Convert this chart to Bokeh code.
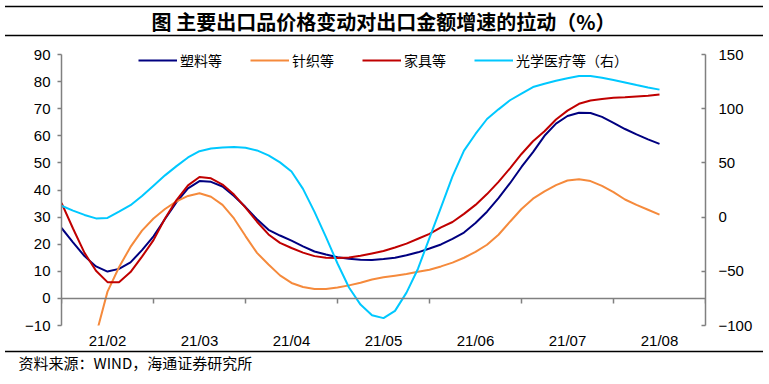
from bokeh.plotting import figure
from bokeh.models import (Range1d, LinearAxis, FixedTicker, Legend, LegendItem, Title, Span)
from bokeh.embed import file_html
from bokeh.resources import INLINE

title_text = "图 主要出口品价格变动对出口金额增速的拉动（%）"
source_text = "资料来源：WIND，海通证券研究所"
months = ["21/02", "21/03", "21/04", "21/05", "21/06", "21/07", "21/08"]
series_names = ["塑料等", "针织等", "家具等", "光学医疗等（右）"]
left_ticks = [-10, 0, 10, 20, 30, 40, 50, 60, 70, 80, 90]
right_ticks = [-100, -50, 0, 50, 100, 150]

# sample positions in month units (21/02 = 1), read every eighth of a month
x_pos = [i / 8 for i in range(4, 57)]

plastics = [26.0, 20.7, 15.6, 11.8, 9.9, 10.9, 13.3, 17.8, 22.9, 29.3,
            35.5, 40.6, 43.3, 43.0, 41.3, 37.8, 33.7, 29.2, 25.3, 23.2,
            21.3, 19.2, 17.3, 16.2, 15.2, 14.6, 14.3, 14.2, 14.5, 15.0,
            15.9, 17.0, 18.4, 19.9, 22.0, 24.3, 27.8, 32.0, 37.0, 42.5,
            48.5, 54.0, 60.0, 64.5, 67.3, 68.5, 68.4, 67.0, 64.8, 62.5,
            60.5, 58.7, 57.0]
knit = [-50.0, -38.0, -25.0, -13.5, 2.5, 11.5, 19.0, 25.0, 29.5, 33.0,
        35.8, 37.8, 38.8, 37.5, 34.5, 29.5, 23.0, 16.8, 12.5, 8.5,
        5.7, 4.2, 3.5, 3.5, 4.0, 4.8, 5.8, 7.0, 7.8, 8.4,
        9.0, 9.8, 10.6, 11.8, 13.2, 15.0, 17.2, 19.8, 23.5, 28.3,
        33.0, 36.8, 39.5, 41.8, 43.5, 44.0, 43.3, 41.5, 39.2, 36.5,
        34.5, 32.7, 30.9]
furniture = [35.2, 25.8, 16.8, 10.2, 6.0, 6.0, 9.7, 15.4, 21.5, 29.5,
             36.3, 41.7, 44.8, 44.3, 42.0, 38.3, 33.5, 28.3, 23.6, 20.5,
             18.6, 16.9, 15.6, 15.0, 14.9, 15.1, 15.7, 16.6, 17.5, 18.8,
             20.2, 22.0, 23.8, 26.2, 28.2, 31.2, 34.5, 38.5, 43.0, 48.0,
             53.3, 58.0, 61.7, 66.0, 69.3, 71.8, 73.0, 73.6, 74.0, 74.2,
             74.5, 74.8, 75.2]
optical = [10.5, 6.0, 2.0, -1.2, -0.8, 5.0, 11.0, 19.5, 29.0, 38.5,
           47.0, 55.0, 60.8, 63.2, 64.2, 64.6, 64.0, 61.5, 57.0, 50.5,
           42.0, 26.0, 4.8, -18.4, -42.8, -64.9, -80.7, -90.5, -93.2, -86.5,
           -69.7, -47.6, -19.1, 9.0, 37.5, 61.3, 76.7, 90.5, 99.4, 107.8,
           113.9, 120.0, 123.0, 125.7, 128.0, 130.2, 130.2, 128.6, 126.5, 124.2,
           121.8, 119.6, 117.6]

colors = ["#000080", "#F58A3C", "#C00000", "#00C8FF"]
axis_gray = "#808080"
tick_font = "Liberation Sans"
cjk_font = "Noto Sans CJK SC"

# layout (canvas pixels; canvas starts 5px from the window's left edge)
W, H = 758, 384
FRAME_L, FRAME_R = 56, 700          # frame spans x 61..705 in the window
FRAME_T, FRAME_B = 35, 325          # frame top sits right under the title rule
AXIS_T = 54                         # value axes run from y=54 (top) to y=325
px_per_left = (FRAME_B - AXIS_T) / (90 - (-10))
px_per_right = (FRAME_B - AXIS_T) / (150 - (-100))
y_top_left = 90 + (AXIS_T - FRAME_T) / px_per_left
y_top_right = 150 + (AXIS_T - FRAME_T) / px_per_right

p = figure(width=W, height=H, x_range=Range1d(0.5, 7.5), y_range=Range1d(-10, y_top_left),
           output_backend="svg", toolbar_location=None,
           min_border_left=FRAME_L, min_border_right=W - FRAME_R,
           min_border_top=FRAME_T, min_border_bottom=H - FRAME_B)
p.margin = (0, 6, 0, 5)
p.extra_y_ranges = {"right": Range1d(-100, y_top_right)}
p.xgrid.visible = False
p.ygrid.visible = False
p.outline_line_color = None
p.background_fill_color = "white"
p.border_fill_color = "white"

# title; its box edges give the two rules above and below it
p.title = Title(text=title_text, align="center", vertical_align="bottom",
                text_font=cjk_font, text_font_size="20px", text_font_style="bold",
                text_color="black", standoff=0, offset=0,
                padding=dict(left=420, right=420, top=0, bottom=0),
                border_line_color="black", border_line_width=1.5,
                background_fill_color="white")

# left axis
ya = p.yaxis[0]
ya.bounds = (-10, 90)
ya.ticker = FixedTicker(ticks=left_ticks, minor_ticks=[])
ya.axis_line_color = axis_gray
ya.axis_line_width = 1.5
ya.major_tick_line_color = axis_gray
ya.major_tick_line_width = 1.5
ya.major_tick_out = 4
ya.major_tick_in = 0
ya.minor_tick_line_color = None
ya.major_label_standoff = 7
ya.major_label_text_font = tick_font
ya.major_label_text_font_size = "15px"
ya.major_label_text_color = "black"

# right axis
ra = LinearAxis(y_range_name="right", ticker=FixedTicker(ticks=right_ticks, minor_ticks=[]),
                bounds=(-100, 150))
ra.axis_line_color = axis_gray
ra.axis_line_width = 1.5
ra.major_tick_line_color = axis_gray
ra.major_tick_line_width = 1.5
ra.major_tick_out = 0
ra.major_tick_in = 4
ra.minor_tick_line_color = None
ra.major_label_standoff = 13
ra.major_label_text_font = tick_font
ra.major_label_text_font_size = "15px"
ra.major_label_text_color = "black"
p.add_layout(ra, "right")

# bottom category labels
xa = p.xaxis[0]
xa.ticker = FixedTicker(ticks=list(range(1, len(months) + 1)), minor_ticks=[])
xa.major_label_overrides = {i + 1: m for i, m in enumerate(months)}
xa.axis_line_color = None
xa.major_tick_line_color = None
xa.minor_tick_line_color = None
xa.major_tick_out = 0
xa.major_label_standoff = 6
xa.major_label_text_font = tick_font
xa.major_label_text_font_size = "15px"
xa.major_label_text_color = "black"

# empty spacer axis that sets where the source note's rule falls
sp = LinearAxis(ticker=FixedTicker(ticks=[], minor_ticks=[]))
sp.axis_line_color = None
sp.major_tick_line_color = None
sp.minor_tick_line_color = None
sp.major_tick_out = 14
sp.major_tick_in = 0
sp.major_label_standoff = 0
p.add_layout(sp, "below")

# zero line and the category boundary ticks hanging from it
p.add_layout(Span(location=0, dimension="width", line_color=axis_gray, line_width=1.5))
bounds = [i + 0.5 for i in range(0, len(months) + 1)]
tick_len = 5 / px_per_left
p.segment(x0=bounds, y0=[0] * len(bounds), x1=bounds, y1=[-tick_len] * len(bounds),
          line_color=axis_gray, line_width=1.5)

renderers = []
for i, (name, ys) in enumerate(zip(series_names, [plastics, knit, furniture, optical])):
    kw = {"y_range_name": "right"} if i == 3 else {}
    r = p.line(x_pos, ys, line_color=colors[i], line_width=2, **kw)
    renderers.append(r)

legend = Legend(items=[LegendItem(label=n, renderers=[r]) for n, r in zip(series_names, renderers)],
                orientation="horizontal", location=(77, 255),
                glyph_width=39, glyph_height=16, label_height=16, label_standoff=3,
                spacing=28, padding=0, margin=0,
                border_line_color=None, background_fill_alpha=0,
                label_text_font=cjk_font, label_text_font_size="14px",
                label_text_color="black")
p.add_layout(legend, "center")

# source note; only the top edge of its box is stroked (the rule above it)
p.add_layout(Title(text=source_text, align="left", vertical_align="top",
                   text_font=cjk_font, text_font_size="15px", text_font_style="normal",
                   text_color="black", standoff=0, offset=-FRAME_L - 4,
                   padding=dict(left=17, right=900, top=0, bottom=0),
                   border_line_color="black", border_line_width=1.5,
                   border_line_dash="1200 4000",
                   background_fill_color="white"), "below")

open("out.html", "w").write(file_html(p, INLINE))
